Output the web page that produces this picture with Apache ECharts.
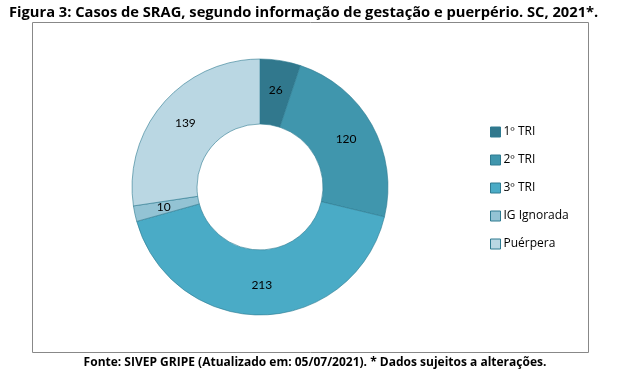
<!DOCTYPE html>
<html style="height: 100%">
<head>
    <meta charset="UTF-8">
    <script type="text/javascript" src="https://cdn.jsdelivr.net/npm/echarts@6/dist/echarts.min.js"></script>
</head>
<body style="height: 100%; margin: 0; background: #fff">
    <div id="container" style="width: 630px; height: 375px;"></div>
    <script type="text/javascript">
        var categories = ['1º TRI', '2º TRI', '3º TRI', 'IG Ignorada', 'Puérpera'];
        var values = [26, 120, 213, 10, 139];
        var colors = ['#31788d', '#4096ad', '#4aabc6', '#93c3d4', '#bad7e3'];

        var pieData = [];
        for (var i = 0; i < categories.length; i++) {
            pieData.push({ name: categories[i], value: values[i], itemStyle: { color: colors[i] } });
        }

        var myChart = echarts.init(document.getElementById('container'));
        var option = {
            animation: false,
            textStyle: { fontFamily: 'Open Sans' },
            title: [{
                text: 'Figura 3: Casos de SRAG, segundo informação de gestação e puerpério. SC, 2021*.',
                left: 4, top: 0,
                textStyle: { fontSize: 14.7, fontWeight: 'bold', color: '#000', fontFamily: 'Open Sans' }
            }, {
                text: 'Fonte: SIVEP GRIPE (Atualizado em: 05/07/2021). * Dados sujeitos a alterações.',
                left: 'center', top: 352,
                textStyle: { fontSize: 12, fontWeight: 'bold', color: '#000', fontFamily: 'Open Sans' }
            }],
            graphic: [{
                type: 'rect',
                shape: { x: 32.5, y: 22.5, width: 556, height: 330 },
                style: { fill: 'none', stroke: '#888', lineWidth: 1 }
            }],
            legend: {
                orient: 'vertical',
                left: 485, top: 119,
                itemWidth: 10, itemHeight: 10,
                itemGap: 12,
                icon: 'rect',
                itemStyle: { borderColor: '#2e7a90', borderWidth: 1 },
                textStyle: { fontSize: 12, color: '#000', fontFamily: 'Open Sans', padding: [0, 0, 0, -2], lineHeight: 16 },
                data: categories
            },
            series: [{
                type: 'pie',
                center: [260, 187],
                radius: [63, 128],
                startAngle: 90,
                clockwise: true,
                avoidLabelOverlap: false,
                itemStyle: { borderColor: '#2e7a90', borderWidth: 0.6 },
                label: {
                    show: true,
                    position: 'inside',
                    formatter: '{c}',
                    fontSize: 12,
                    color: '#000',
                    fontFamily: 'Lato'
                },
                labelLine: { show: false },
                emphasis: { disabled: true },
                data: pieData
            }]
        };
        myChart.setOption(option);
        window.onresize = function () {
            myChart.resize();
        };
    </script>
</body>
</html>
